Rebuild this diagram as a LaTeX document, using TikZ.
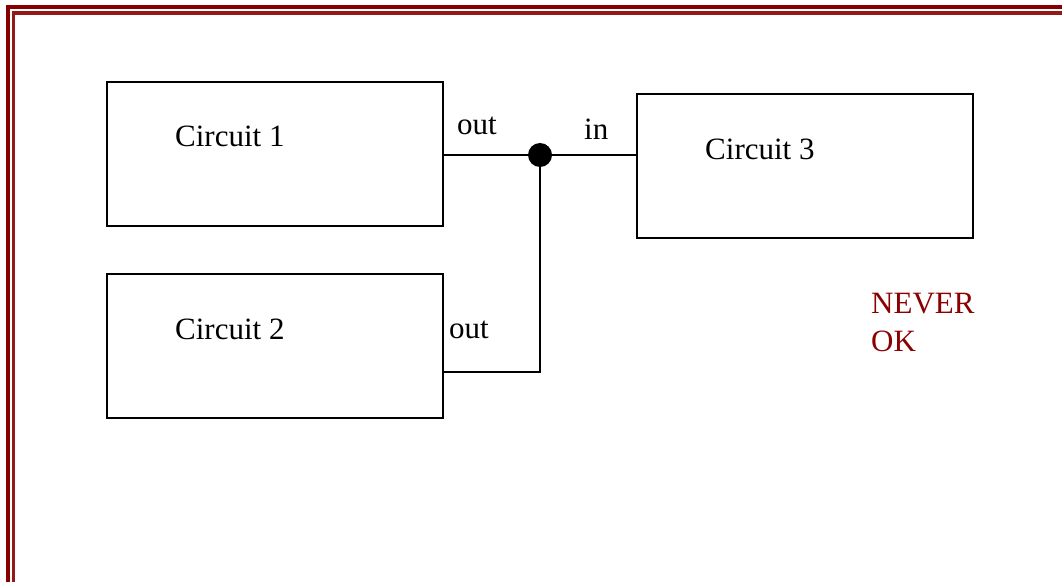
\documentclass[tikz,border=0pt]{standalone}
\usepackage{fontspec}
\setmainfont{Liberation Serif}
\usetikzlibrary{positioning}

\definecolor{frame}{HTML}{870000}
\definecolor{warn}{HTML}{8B0000}

\begin{document}
\begin{tikzpicture}[
    x=1pt, y=-1pt,
    circuit/.style={draw, line width=2pt, minimum width=336pt, minimum height=144pt, inner sep=0pt},
    txt/.style={anchor=base west, inner sep=0pt, font=\fontsize{31}{38}\selectfont},
    wire/.style={line width=2pt}
]
\useasboundingbox (0,0) rectangle (1062,581);
\clip (0,0) rectangle (1062,581);

% page frame
\draw[frame, line width=3.2pt] (8,7) rectangle (1080,600);
\draw[frame!90, line width=3.2pt] (13.5,13) rectangle (1080,600);

% the circuits
\node[circuit] (c1) at (275,154) {};
\node[circuit] (c2) at (275,346) {};
\node[circuit] (c3) at (805,166) {};

\node[txt] (t1) at (175,146) {Circuit 1};
\node[txt] (t2) at (175,339) {Circuit 2};
\node[txt] (t3) at (705,159) {Circuit 3};

% wiring
\coordinate (j) at (540,155);
\coordinate (c2out) at (443,372);
\draw[wire] (j -| c1.east) -- (j);
\draw[wire] (j) -- (j -| c3.west);
\draw[wire] (j) -- (j |- c2out) -- (c2out);
\fill (j) circle (12pt);

\node[txt] (o1) at (457,134) {out};
\node[txt] (i3) at (584,139) {in};
\node[txt] (o2) at (449,338) {out};

% verdict
\node[txt, text=warn, align=left] (never) at (871,351) {NEVER\\OK};
\end{tikzpicture}
\end{document}
